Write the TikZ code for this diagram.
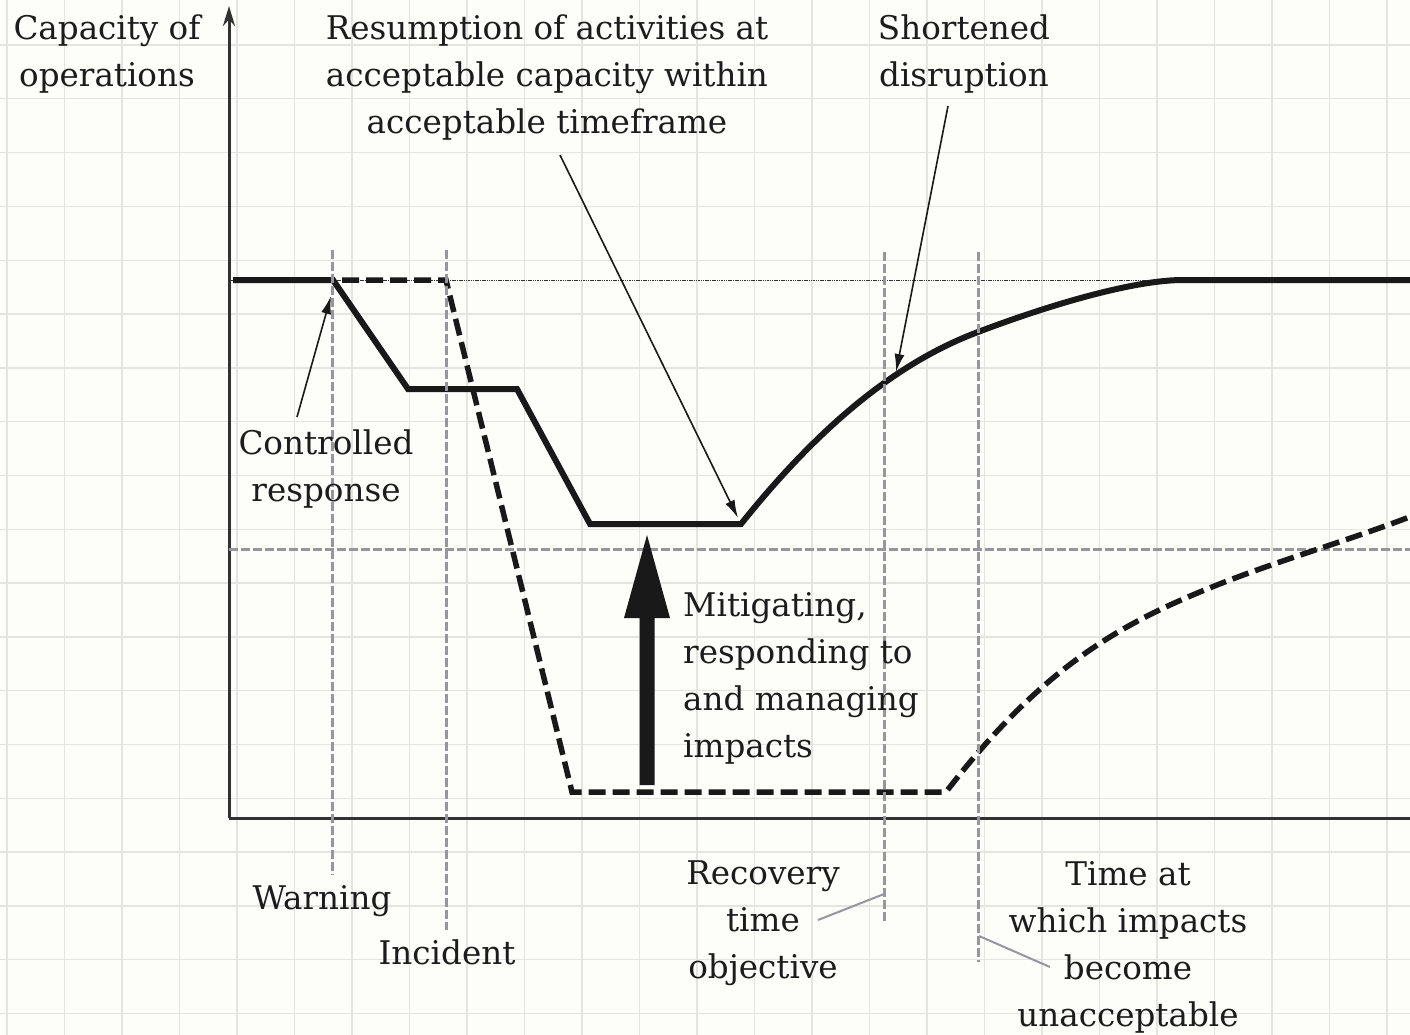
\documentclass[tikz,border=0pt]{standalone}
\usepackage{fontspec}
\setmainfont{DejaVu Serif}
\usetikzlibrary{arrows.meta}

\definecolor{paper}{RGB}{253,253,249}
\definecolor{gridcol}{RGB}{228,229,225}
\definecolor{axiscol}{RGB}{50,50,50}
\definecolor{guidecol}{RGB}{150,150,156}
\definecolor{ink}{RGB}{25,25,25}
\definecolor{textcol}{RGB}{28,28,28}

\newcommand\lblfont{\fontsize{32.6}{47}\selectfont}

\tikzset{
  gridline/.style={gridcol, line width=1.4pt},
  axisline/.style={axiscol, line width=3pt},
  refline/.style={axiscol, line width=1pt, dash pattern=on 1.5pt off 0.8pt},
  guide/.style={guidecol, line width=3pt, dash pattern=on 9pt off 3pt},
  normalcurve/.style={ink, line width=6pt, line join=miter},
  worstcurve/.style={ink, line width=5.5pt, dash pattern=on 17pt off 7pt, line join=miter},
  pointer/.style={ink, line width=1.6pt, -{Latex[length=18pt,width=10pt]}},
  leader/.style={guidecol, line width=2pt},
  lbl/.style={font=\lblfont, text=textcol, inner sep=0pt, align=center, anchor=north},
}

\begin{document}
\begin{tikzpicture}[x=1pt, y=-1pt]
  % paper and grid
  \fill[paper] (0,0) rectangle (1410,1035);
  \useasboundingbox (0,0) rectangle (1410,1035);
  \foreach \i in {0,...,24} \draw[gridline] ({7+57.5*\i},0) -- ({7+57.5*\i},1035);
  \foreach \j in {0,...,18} \draw[gridline] (0,{45+53.8*\j}) -- (1410,{45+53.8*\j});

  % axes
  \coordinate (origin) at (229,818);
  \coordinate (ytop) at (229,6);
  \coordinate (xend) at (1410,818);
  \draw[axisline, -{Stealth[length=20pt,width=12pt]}] (origin) -- (ytop);
  \draw[axisline] (origin) -- (xend);

  % full capacity and minimum acceptable capacity levels
  \draw[refline] (229,280) -- (1160,280);
  \draw[guide] (229,549) -- (1410,549);

  % capacity without business continuity
  \draw[worstcurve] (318,280) -- (446,280) -- (572,792) -- (946,792)
    .. controls (1046,662) and (1127,621) .. (1217,585)
    .. controls (1280,560) and (1350,540) .. (1412,516);

  % capacity with business continuity
  \draw[normalcurve] (233,280) -- (333,280) -- (408,389) -- (517,389) -- (590,524) -- (741,524)
    .. controls (821,424) and (898,362) .. (978,332)
    .. controls (1048,305.4) and (1133,280) .. (1183,280) -- (1410,280);

  % event markers
  \draw[guide] (332,250) -- (332,875);
  \draw[guide] (446,250) -- (446,930);
  \draw[guide] (884,252) -- (884,922);
  \draw[guide] (978,252) -- (978,962);

  % response effort
  \fill[ink] (639.5,785) -- (639.5,618) -- (624,618) -- (647,535) -- (670,618)
    -- (654.5,618) -- (654.5,785) -- cycle;

  % labels
  \node[lbl] (capacity) at (107,15) {Capacity of\\operations};
  \node[lbl] (resumption) at (547,15) {Resumption of activities at\\acceptable capacity within\\acceptable timeframe};
  \node[lbl] (shortened) at (964,15) {Shortened\\disruption};
  \node[lbl] (controlled) at (326,430) {Controlled\\response};
  \node[lbl, anchor=north west, align=left] (mitigating) at (683,592) {Mitigating,\\responding to\\and managing\\impacts};
  \node[lbl] (warning) at (322,885) {Warning};
  \node[lbl] (incident) at (447,940) {Incident};
  \node[lbl] (rto) at (763,861) {Recovery\\time\\objective};
  \node[lbl] (unacceptable) at (1128,861) {Time at\\which impacts\\become\\unacceptable};

  % pointers
  \coordinate (ctrlFrom) at (297,417);
  \coordinate (ctrlTip) at (331,296);
  \coordinate (resFrom) at (560,155);
  \coordinate (resTip) at (738,518);
  \coordinate (shortFrom) at (948,106);
  \coordinate (shortTip) at (896,372);
  \draw[pointer] (ctrlFrom) -- (ctrlTip);
  \draw[pointer] (resFrom) -- (resTip);
  \draw[pointer] (shortFrom) -- (shortTip);

  % leaders from the time labels
  \coordinate (rtoFrom) at (818,920);
  \coordinate (rtoTo) at (884,894);
  \coordinate (unaccFrom) at (979,936);
  \coordinate (unaccTo) at (1050,967);
  \draw[leader] (rtoFrom) -- (rtoTo);
  \draw[leader] (unaccFrom) -- (unaccTo);
\end{tikzpicture}
\end{document}
